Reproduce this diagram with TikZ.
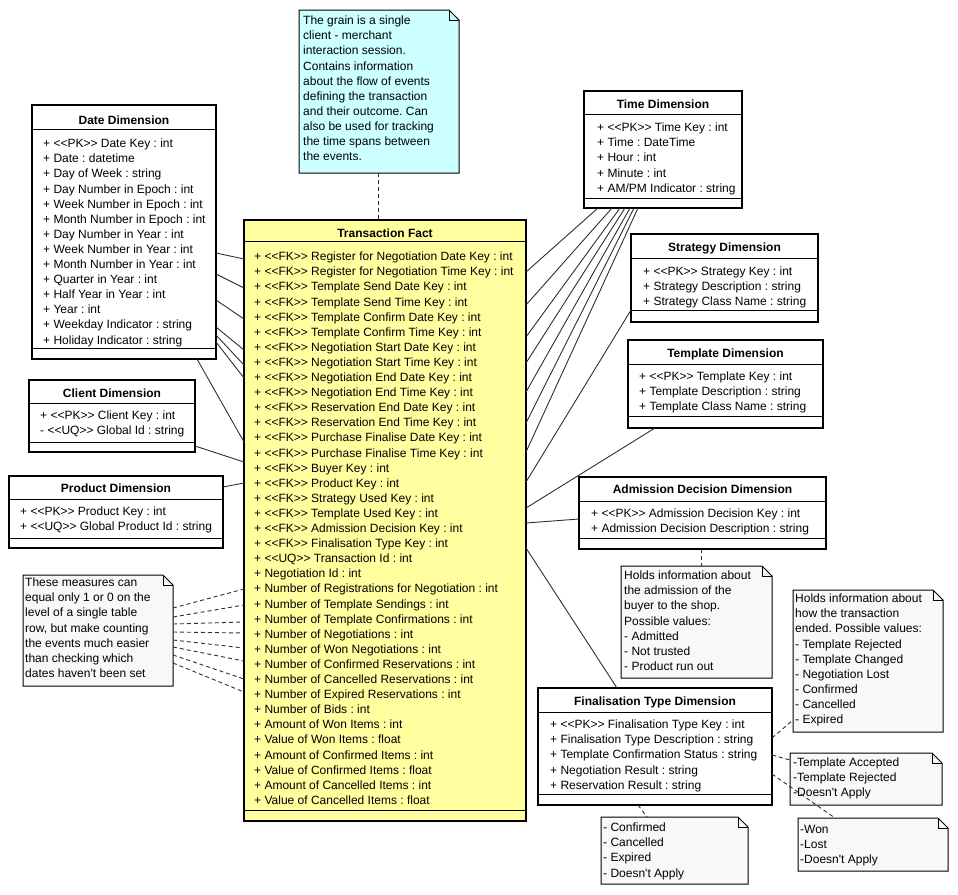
\documentclass[tikz,border=0pt]{standalone}
\usepackage{fontspec}
\setmainfont{Liberation Sans}[Ligatures=TeXOff]
\usetikzlibrary{calc}
\definecolor{factfill}{RGB}{255,255,160}
\definecolor{grainfill}{RGB}{204,255,255}
\definecolor{notefill}{RGB}{248,248,248}
\definecolor{linecol}{RGB}{40,50,50}
\tikzset{
 cls/.style={draw=black, line width=2pt, fill=white, inner sep=0pt, outer sep=0pt, anchor=north west},
 sepline/.style={draw=black, line width=1pt},
 ttl/.style={anchor=base, inner sep=0pt, font=\fontsize{12}{15}\selectfont\bfseries},
 att/.style={anchor=north west, inner sep=0pt, align=left, font=\fontsize{12}{15.1}\selectfont\frenchspacing},
 noteanchor/.style={inner sep=0pt, outer sep=0pt, anchor=north west},
 noteline/.style={draw=black, line width=1pt},
 conn/.style={draw=linecol, line width=0.9pt},
 dashconn/.style={conn, dash pattern=on 4pt off 3pt},
}
\newcommand{\umlnote}[2]{%
 \path[noteline, fill=#2] (#1.north west) -- ([xshift=-10pt]#1.north east) -- ([yshift=-10pt]#1.north east) -- (#1.south east) -- (#1.south west) -- cycle;
 \draw[noteline] ([xshift=-10pt]#1.north east) -- ([xshift=-10pt,yshift=-10pt]#1.north east) -- ([yshift=-10pt]#1.north east);}
\begin{document}
\frenchspacing
\begin{tikzpicture}[x=1pt,y=-1pt]
\useasboundingbox (0,0) rectangle (958,894);

% ---------- Transaction Fact ----------
\node[cls, fill=factfill, minimum width=282pt, minimum height=601pt] (fact) at (244,220) {};
\draw[sepline] (fact.west |- 0,241) -- (fact.east |- 0,241);
\draw[sepline] (fact.west |- 0,810) -- (fact.east |- 0,810);
\node[ttl] (factT) at (fact.center |- 0,237.3) {Transaction Fact};
\node[att] (factA) at (254,250) {\strut + <<FK>> Register for Negotiation Date Key : int\\
+ <<FK>> Register for Negotiation Time Key : int\\
+ <<FK>> Template Send Date Key : int\\
+ <<FK>> Template Send Time Key : int\\
+ <<FK>> Template Confirm Date Key : int\\
+ <<FK>> Template Confirm Time Key : int\\
+ <<FK>> Negotiation Start Date Key : int\\
+ <<FK>> Negotiation Start Time Key : int\\
+ <<FK>> Negotiation End Date Key : int\\
+ <<FK>> Negotiation End Time Key : int\\
+ <<FK>> Reservation End Date Key : int\\
+ <<FK>> Reservation End Time Key : int\\
+ <<FK>> Purchase Finalise Date Key : int\\
+ <<FK>> Purchase Finalise Time Key : int\\
+ <<FK>> Buyer Key : int\\
+ <<FK>> Product Key : int\\
+ <<FK>> Strategy Used Key : int\\
+ <<FK>> Template Used Key : int\\
+ <<FK>> Admission Decision Key : int\\
+ <<FK>> Finalisation Type Key : int\\
+ <<UQ>> Transaction Id : int\\
+ Negotiation Id : int\\
+ Number of Registrations for Negotiation : int\\
+ Number of Template Sendings : int\\
+ Number of Template Confirmations : int\\
+ Number of Negotiations : int\\
+ Number of Won Negotiations : int\\
+ Number of Confirmed Reservations : int\\
+ Number of Cancelled Reservations : int\\
+ Number of Expired Reservations : int\\
+ Number of Bids : int\\
+ Amount of Won Items : int\\
+ Value of Won Items : float\\
+ Amount of Confirmed Items : int\\
+ Value of Confirmed Items : float\\
+ Amount of Cancelled Items : int\\
+ Value of Cancelled Items : float};

% ---------- Date Dimension ----------
\node[cls, minimum width=184pt, minimum height=254pt] (date) at (32,105) {};
\draw[sepline] (date.west |- 0,129) -- (date.east |- 0,129);
\draw[sepline] (date.west |- 0,348) -- (date.east |- 0,348);
\node[ttl] (dateT) at (date.center |- 0,124.3) {Date Dimension};
\node[att] (dateA) at (43,137) {\strut + <<PK>> Date Key : int\\
+ Date : datetime\\
+ Day of Week : string\\
+ Day Number in Epoch : int\\
+ Week Number in Epoch : int\\
+ Month Number in Epoch : int\\
+ Day Number in Year : int\\
+ Week Number in Year : int\\
+ Month Number in Year : int\\
+ Quarter in Year : int\\
+ Half Year in Year : int\\
+ Year : int\\
+ Weekday Indicator : string\\
+ Holiday Indicator : string};

% ---------- Client Dimension ----------
\node[cls, minimum width=166pt, minimum height=72pt] (client) at (29,380) {};
\draw[sepline] (client.west |- 0,403) -- (client.east |- 0,403);
\draw[sepline] (client.west |- 0,442) -- (client.east |- 0,442);
\node[ttl] (clientT) at (client.center |- 0,397.3) {Client Dimension};
\node[att] (clientA) at (40,409) {\strut + <<PK>> Client Key : int\\
- <<UQ>> Global Id : string};

% ---------- Product Dimension ----------
\node[cls, minimum width=214pt, minimum height=72pt] (product) at (9,476) {};
\draw[sepline] (product.west |- 0,499) -- (product.east |- 0,499);
\draw[sepline] (product.west |- 0,538) -- (product.east |- 0,538);
\node[ttl] (productT) at (product.center |- 0,492.3) {Product Dimension};
\node[att] (productA) at (20,505) {\strut + <<PK>> Product Key : int\\
+ <<UQ>> Global Product Id : string};

% ---------- Time Dimension ----------
\node[cls, minimum width=158pt, minimum height=117pt] (time) at (584,91) {};
\draw[sepline] (time.west |- 0,114) -- (time.east |- 0,114);
\draw[sepline] (time.west |- 0,198) -- (time.east |- 0,198);
\node[ttl] (timeT) at (time.center |- 0,108.3) {Time Dimension};
\node[att] (timeA) at (597,121) {\strut + <<PK>> Time Key : int\\
+ Time : DateTime\\
+ Hour : int\\
+ Minute : int\\
+ AM/PM Indicator : string};

% ---------- Strategy Dimension ----------
\node[cls, minimum width=187pt, minimum height=88pt] (strategy) at (631,234) {};
\draw[sepline] (strategy.west |- 0,258) -- (strategy.east |- 0,258);
\draw[sepline] (strategy.west |- 0,310) -- (strategy.east |- 0,310);
\node[ttl] (strategyT) at (strategy.center |- 0,251.3) {Strategy Dimension};
\node[att] (strategyA) at (643,265) {\strut + <<PK>> Strategy Key : int\\
+ Strategy Description : string\\
+ Strategy Class Name : string};

% ---------- Template Dimension ----------
\node[cls, minimum width=195pt, minimum height=88pt] (template) at (628,340) {};
\draw[sepline] (template.west |- 0,364) -- (template.east |- 0,364);
\draw[sepline] (template.west |- 0,416) -- (template.east |- 0,416);
\node[ttl] (templateT) at (template.center |- 0,357.3) {Template Dimension};
\node[att] (templateA) at (639,370) {\strut + <<PK>> Template Key : int\\
+ Template Description : string\\
+ Template Class Name : string};

% ---------- Admission Decision Dimension ----------
\node[cls, minimum width=247pt, minimum height=72pt] (admission) at (579,477) {};
\draw[sepline] (admission.west |- 0,501) -- (admission.east |- 0,501);
\draw[sepline] (admission.west |- 0,538) -- (admission.east |- 0,538);
\node[ttl] (admissionT) at (admission.center |- 0,493.3) {Admission Decision Dimension};
\node[att] (admissionA) at (591,507) {\strut + <<PK>> Admission Decision Key : int\\
+ Admission Decision Description : string};

% ---------- Finalisation Type Dimension ----------
\node[cls, minimum width=234pt, minimum height=117pt] (final) at (538,688) {};
\draw[sepline] (final.west |- 0,712) -- (final.east |- 0,712);
\draw[sepline] (final.west |- 0,794) -- (final.east |- 0,794);
\node[ttl] (finalT) at (final.center |- 0,705.3) {Finalisation Type Dimension};
\node[att] (finalA) at (550,718) {\strut + <<PK>> Finalisation Type Key : int\\
+ Finalisation Type Description : string\\
+ Template Confirmation Status : string\\
+ Negotiation Result : string\\
+ Reservation Result : string};

% ---------- Notes ----------
\node[noteanchor, minimum width=160pt, minimum height=163pt] (grain) at (299,10) {};
\umlnote{grain}{grainfill}
\node[att] (grainT) at (303,14) {\strut The grain is a single\\
client - merchant\\
interaction session.\\
Contains information\\
about the flow of events\\
defining the transaction\\
and their outcome. Can\\
also be used for tracking\\
the time spans between\\
the events.};

\node[noteanchor, minimum width=150pt, minimum height=111pt] (measures) at (23,575) {};
\umlnote{measures}{notefill}
\node[att] (measuresT) at (25,576) {\strut These measures can\\
equal only 1 or 0 on the\\
level of a single table\\
row, but make counting\\
the events much easier\\
than checking which\\
dates haven\textquotesingle t been set};

\node[noteanchor, minimum width=151pt, minimum height=112pt] (admnote) at (621,566) {};
\umlnote{admnote}{notefill}
\node[att] (admnoteT) at (624,569) {\strut Holds information about\\
the admission of the\\
buyer to the shop.\\
Possible values:\\
- Admitted\\
- Not trusted\\
- Product run out};

\node[noteanchor, minimum width=150pt, minimum height=142pt] (finnote) at (793,590) {};
\umlnote{finnote}{notefill}
\node[att] (finnoteT) at (795,592) {\strut Holds information about\\
how the transaction\\
ended. Possible values:\\
- Template Rejected\\
- Template Changed\\
- Negotiation Lost\\
- Confirmed\\
- Cancelled\\
- Expired};

\node[noteanchor, minimum width=152pt, minimum height=52pt] (tplnote) at (790,753) {};
\umlnote{tplnote}{notefill}
\node[att] (tplnoteT) at (793,756) {\strut -Template Accepted\\
-Template Rejected\\
-Doesn\textquotesingle t Apply};

\node[noteanchor, minimum width=150pt, minimum height=53pt] (negnote) at (798,818) {};
\umlnote{negnote}{notefill}
\node[att] (negnoteT) at (800,823) {\strut -Won\\
-Lost\\
-Doesn\textquotesingle t Apply};

\node[noteanchor, minimum width=147pt, minimum height=67pt] (resnote) at (601,817) {};
\umlnote{resnote}{notefill}
\node[att] (resnoteT) at (603,821) {\strut - Confirmed\\
- Cancelled\\
- Expired\\
- Doesn\textquotesingle t Apply};

% ---------- Connectors ----------
% Date -> Fact
\draw[conn] (date.east |- 0,253) -- (fact.west |- 0,259);
\draw[conn] (date.east |- 0,274) -- (fact.west |- 0,288);
\draw[conn] (date.east |- 0,300) -- (fact.west |- 0,319);
\draw[conn] (date.east |- 0,327) -- (fact.west |- 0,350);
\draw[conn] (date.east |- 0,335) -- (fact.west |- 0,365);
\draw[conn] (date.east |- 0,342) -- (fact.west |- 0,378);
\draw[conn] (date.south -| 197,0) -- (fact.west |- 0,442);
% Client, Product -> Fact
\draw[conn] (client.east |- 0,446) -- (fact.west |- 0,462);
\draw[conn] (product.east |- 0,487) -- (fact.west |- 0,483);
% Time -> Fact
\draw[conn] (time.south -| 598,0) -- (fact.east |- 0,272);
\draw[conn] (time.south -| 612,0) -- (fact.east |- 0,305);
\draw[conn] (time.south -| 620,0) -- (fact.east |- 0,337);
\draw[conn] (time.south -| 625,0) -- (fact.east |- 0,363);
\draw[conn] (time.south -| 630,0) -- (fact.east |- 0,392);
\draw[conn] (time.south -| 634,0) -- (fact.east |- 0,423);
\draw[conn] (time.south -| 638,0) -- (fact.east |- 0,452);
% Strategy, Template, Admission, Finalisation -> Fact
\draw[conn] (strategy.west |- 0,310) -- (fact.east |- 0,482);
\draw[conn] (template.south -| 655,0) -- (fact.east |- 0,508);
\draw[conn] (admission.west |- 0,519) -- (fact.east |- 0,523);
\draw[conn] (final.north -| 617,0) -- (fact.east |- 0,548);
% Notes
\draw[dashconn] (grain.south -| 378,0) -- (fact.north -| 378,0);
\draw[dashconn] (measures.east |- 0,608) -- (fact.west |- 0,589);
\draw[dashconn] (measures.east |- 0,617) -- (fact.west |- 0,605);
\draw[dashconn] (measures.east |- 0,624) -- (fact.west |- 0,622);
\draw[dashconn] (measures.east |- 0,632) -- (fact.west |- 0,633);
\draw[dashconn] (measures.east |- 0,640) -- (fact.west |- 0,648);
\draw[dashconn] (measures.east |- 0,647) -- (fact.west |- 0,661);
\draw[dashconn] (measures.east |- 0,655) -- (fact.west |- 0,679);
\draw[dashconn] (measures.east |- 0,663) -- (fact.west |- 0,692);
\draw[dashconn] (admission.south -| 701,0) -- (admnote.north -| 701,0);
\draw[dashconn] (final.east |- 0,738) -- (finnote.west |- 0,720);
\draw[dashconn] (final.east |- 0,755) -- (tplnote.west |- 0,760);
\draw[dashconn] (final.east |- 0,774) -- (negnote.north -| 835,0);
\draw[dashconn] (final.south -| 638,0) -- (resnote.north -| 647,0);
\end{tikzpicture}
\end{document}
